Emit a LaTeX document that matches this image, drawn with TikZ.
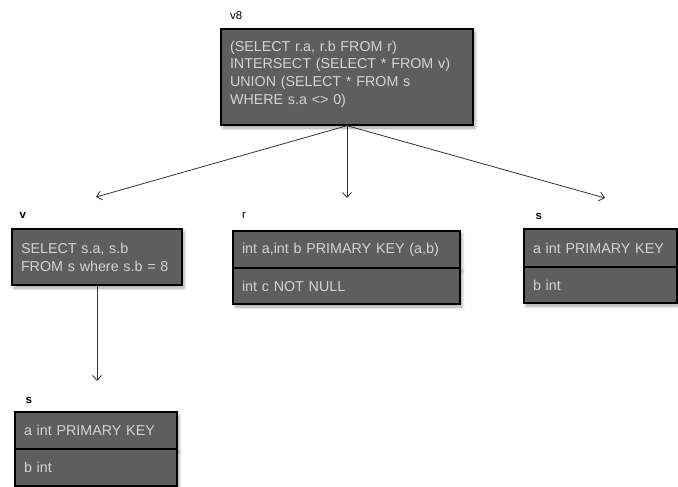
\documentclass[tikz,border=0pt]{standalone}
\usepackage{fontspec}
\setmainfont{Liberation Sans}
\usetikzlibrary{arrows.meta,shadows.blur}
\definecolor{boxfill}{HTML}{5E5E5E}
\definecolor{boxtext}{HTML}{D4D4D4}
\definecolor{edgecol}{HTML}{333333}
\tikzset{
  tbox/.style={draw=black, line width=1.4pt, fill=boxfill, text=boxtext,
    font=\fontsize{14.3}{18}\selectfont, align=left, inner xsep=9pt, inner ysep=0pt,
    blur shadow={shadow xshift=2pt, shadow yshift=-3pt, shadow blur radius=3pt, shadow opacity=35}},
  tlabel/.style={anchor=west, inner sep=0pt, font=\fontsize{11.5}{13}\selectfont},
  blabel/.style={tlabel, font=\fontsize{11.5}{13}\selectfont\bfseries},
  conn/.style={draw=edgecol, line width=0.8pt, -{Straight Barb[length=5pt,width=9pt]}}
}
\begin{document}
\begin{tikzpicture}[x=1pt,y=-1pt]
\useasboundingbox (0,0) rectangle (678,487);

% view v8 (text block sits a little above the box centre)
\node[tlabel] (lv8) at (230,15.5) {v8};
\node[tbox, font=\fontsize{14.3}{17.7}\selectfont, minimum width=252pt, minimum height=96pt, text width=234pt] (v8) at (347,77)
  {(SELECT r.a, r.b FROM r)\\INTERSECT (SELECT * FROM v)\\UNION (SELECT * FROM s\\WHERE s.a <> 0)\\[-9pt]~};

% view v
\node[blabel] (lv) at (19.5,215.5) {v};
\node[tbox, minimum width=170pt, minimum height=56pt, text width=152pt] (v) at (97,257)
  {SELECT s.a, s.b\\FROM s where s.b = 8};

% table r
\node[tlabel] (lr) at (242,215.5) {r};
\node[tbox, minimum width=227pt, minimum height=37pt, text width=209pt] (r1) at (346.5,249.5)
  {int a,int b PRIMARY KEY (a,b)};
\node[tbox, minimum width=227pt, minimum height=36pt, text width=209pt] (r2) at (346.5,286)
  {int c NOT NULL};

% table s (right)
\node[blabel] (ls1) at (535.5,216) {s};
\node[tbox, minimum width=153pt, minimum height=38pt, text width=135pt] (sa1) at (600.5,248)
  {a int PRIMARY KEY};
\node[tbox, minimum width=153pt, minimum height=36pt, text width=135pt] (sb1) at (600.5,285)
  {b int};

% table s (below v)
\node[blabel] (ls2) at (25.5,400) {s};
\node[tbox, minimum width=162pt, minimum height=37pt, text width=144pt] (sa2) at (96,430.5)
  {a int PRIMARY KEY};
\node[tbox, minimum width=162pt, minimum height=37pt, text width=144pt] (sb2) at (96,467.5)
  {b int};

% connector ends
\coordinate (tv) at (96,197);
\coordinate (tr) at (347,198);
\coordinate (ts) at (605,198);
\coordinate (ts2) at (97,381);

\draw[conn] (v8.south) -- (tv);
\draw[conn] (v8.south) -- (tr);
\draw[conn] (v8.south) -- (ts);
\draw[conn] (v.south) -- (ts2);
\end{tikzpicture}
\end{document}
